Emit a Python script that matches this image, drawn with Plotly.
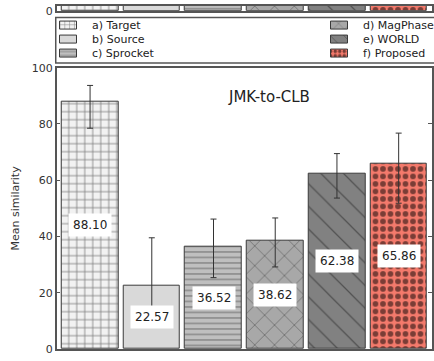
import plotly.graph_objects as go

# Mean similarity per system, JMK-to-CLB conversion
systems = ["a) Target", "b) Source", "c) Sprocket", "d) MagPhase", "e) WORLD", "f) Proposed"]
means = [88.10, 22.57, 36.52, 38.62, 62.38, 65.86]
err_plus = [5.6, 17.0, 9.7, 8.0, 7.1, 10.9]
err_minus = [9.6, 11.6, 11.1, 9.4, 8.7, 14.0]
y_ticks = [0, 20, 40, 60, 80, 100]

# bar styling per system
fills = ["#f2f2f2", "#d9d9d9", "#bfbfbf", "#a8a8a8", "#818181", "#f47a6c"]
shapes = ["+", "", "-", "x", "\\", "."]
pat_sizes = [8, 8, 5.5, 14, 16, 7.5]
pat_solid = [0.2, 0.2, 0.24, 0.1, 0.08, 0.45]
pat_colors = ["#111111", "#111111", "#444444", "#222222", "#222222", "#000000"]

W, H = 434, 361
FONT = "DejaVu Sans"
EDGE = "#3a3a3a"
AX = "#555555"

# legend block geometry (pixels)
LEG_LEFT, LEG_TOP, LEG_BOTTOM = 56, 12, 59
leg_rows = [20, 34.5, 49]
leg_cols = [60, 333]
SWATCH_W, SWATCH_H, TEXT_GAP = 17, 8, 13


def bar_marker(i):
    return dict(
        color=fills[i],
        line=dict(color=EDGE, width=1),
        pattern=dict(shape=shapes[i], fgcolor=pat_colors[i], size=pat_sizes[i],
                     solidity=pat_solid[i], fillmode="overlay"),
    )


fig = go.Figure()

for i, name in enumerate(systems):
    # main panel
    fig.add_trace(go.Bar(
        x=[i], y=[means[i]], width=0.92, name=name, marker=bar_marker(i),
        showlegend=False,
        error_y=dict(type="data", symmetric=False, array=[err_plus[i]],
                     arrayminus=[err_minus[i]], color="#333333", thickness=1, width=3),
        xaxis="x", yaxis="y",
    ))
    # panel above, only its baseline is in frame
    fig.add_trace(go.Bar(
        x=[i], y=[means[i]], width=0.92, name=name, marker=bar_marker(i),
        showlegend=False, xaxis="x2", yaxis="y2",
    ))
    # legend swatch on a pixel-unit axis
    col, row = divmod(i, 3)
    m = bar_marker(i)
    m["pattern"]["size"] = max(4, pat_sizes[i] * 0.6)
    fig.add_trace(go.Bar(
        orientation="h", y=[leg_rows[row]], x=[SWATCH_W], base=[leg_cols[col]],
        width=SWATCH_H, marker=m, showlegend=False, hoverinfo="skip",
        xaxis="x3", yaxis="y3",
    ))
    fig.add_annotation(
        x=leg_cols[col] + SWATCH_W + TEXT_GAP, y=leg_rows[row], xref="x3", yref="y3",
        text=name, showarrow=False, xanchor="left", yanchor="middle",
        font=dict(family=FONT, size=11, color="#222222"),
    )

# value labels in white boxes at mid-height of each bar
for i, v in enumerate(means):
    fig.add_annotation(
        x=i, y=v / 2, xref="x", yref="y", text=f"{v:.2f}", showarrow=False,
        font=dict(family=FONT, size=12, color="#222222"),
        bgcolor="white", borderpad=4,
    )

fig.add_annotation(
    x=270 / W, y=1 - 83 / H, xref="paper", yref="paper", text="JMK-to-CLB",
    showarrow=False, xanchor="center", font=dict(family=FONT, size=15, color="#222222"),
)

# legend frame
fig.add_shape(type="rect", xref="paper", yref="paper",
              x0=LEG_LEFT / W, x1=1.02, y0=1 - LEG_BOTTOM / H, y1=1 - LEG_TOP / H,
              line=dict(color=AX, width=1.5), fillcolor="rgba(0,0,0,0)")

x_range = [-0.54, 5.54]
axis_common = dict(showline=True, linecolor=AX, linewidth=1.5, mirror="ticks",
                   showgrid=False, zeroline=False)

fig.update_layout(
    width=W, height=H,
    margin=dict(l=0, r=0, t=0, b=0),
    paper_bgcolor="white", plot_bgcolor="white",
    barmode="overlay", bargap=0, showlegend=False,
    font=dict(family=FONT, size=11, color="#333333"),
    xaxis=dict(domain=[57 / W, 1.0], range=x_range, showticklabels=False,
               ticks="", anchor="y", **axis_common),
    yaxis=dict(domain=[5 / H, 1 - 64 / H], range=[0, 100], tickvals=y_ticks,
               ticks="inside", ticklen=4, tickcolor=AX, anchor="x",
               tickfont=dict(family=FONT, size=11, color="#333333"),
               title=dict(text="Mean similarity", standoff=10,
                          font=dict(family=FONT, size=11, color="#333333")),
               **axis_common),
    xaxis2=dict(domain=[57 / W, 1.0], range=x_range, showticklabels=False,
                ticks="", anchor="y2", **axis_common),
    yaxis2=dict(domain=[1 - 5 / H, 1.0], range=[0, 1.7], tickvals=[0],
                ticks="inside", ticklen=4, tickcolor=AX, anchor="x2",
                tickfont=dict(family=FONT, size=11, color="#333333"),
                **axis_common),
    # pixel-unit axes hosting the legend block
    xaxis3=dict(domain=[0, 1], range=[0, W], visible=False, anchor="y3", fixedrange=True),
    yaxis3=dict(domain=[1 - LEG_BOTTOM / H, 1 - LEG_TOP / H], range=[LEG_BOTTOM, LEG_TOP],
                visible=False, anchor="x3", fixedrange=True),
)

fig.write_html("out.html")
